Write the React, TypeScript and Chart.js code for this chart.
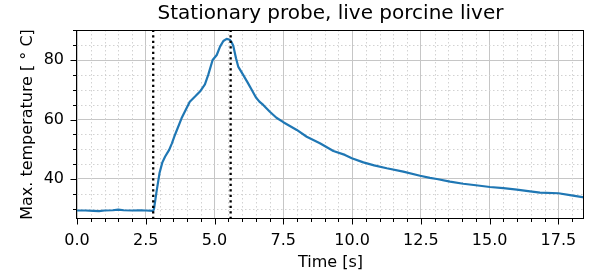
import React, { useEffect, useRef } from 'react';
import { Chart, registerables } from 'chart.js';

Chart.register(...registerables);

// ---- data ----
const timeS: number[] = [
  0, 0.3, 0.6, 0.8, 1.0, 1.3, 1.5, 1.7, 2.0, 2.3, 2.5, 2.77,
  2.8, 2.89, 3.0, 3.1, 3.2, 3.35, 3.45, 3.56, 3.8, 4.1, 4.3, 4.47, 4.65, 4.77, 4.93,
  5.08, 5.2, 5.32, 5.44, 5.55, 5.62, 5.68, 5.78, 5.86, 6.04, 6.2, 6.35, 6.5, 6.63,
  6.77, 7.01, 7.25, 7.5, 7.99, 8.35, 8.83, 9.32, 9.74, 9.99, 10.41, 10.8, 11.26,
  11.86, 12.47, 12.83, 13.08, 13.56, 14.04, 14.5, 15.01, 15.5, 15.99, 16.4, 16.83,
  17.5, 17.92, 18.43,
];
const maxTempC: number[] = [
  29.4, 29.4, 29.3, 29.2, 29.4, 29.5, 29.7, 29.5, 29.4, 29.5, 29.4, 29.3,
  30.0, 35.7, 42.0, 45.5, 47.5, 49.8, 52.0, 54.8, 60.4, 66.0, 67.8, 69.4, 71.8, 75.0, 80.0,
  81.7, 84.5, 86.4, 87.1, 86.8, 86.0, 84.8, 80.6, 77.8, 75.0, 72.5, 70.0, 67.5, 66.0,
  64.9, 62.6, 60.6, 59.1, 56.5, 54.2, 52.0, 49.4, 48.1, 47.0, 45.6, 44.6, 43.6,
  42.5, 41.1, 40.4, 40.0, 39.1, 38.4, 37.9, 37.3, 36.9, 36.4, 35.9, 35.4,
  35.2, 34.6, 33.8,
];
const markerTimes: number[] = [2.77, 5.585];

const xLimits: number[] = [0, 18.43];
const yLimits: number[] = [26.55, 90.1];
const xMajorStep = 2.5;
const xMinorStep = 0.5;
const yMajorStep = 20;
const yMinorStep = 5;

const titleText = 'Stationary probe, live porcine liver';
const xTitle = 'Time [s]';
const yTitle = 'Max. temperature [ ° C]';

const FONT = "'DejaVu Sans', sans-serif";

const isMajor = (v: number, step: number) => Math.abs(v / step - Math.round(v / step)) < 1e-6;

const decorPlugin = {
  id: 'decor',
  beforeDatasetsDraw(chart: any) {
    const { ctx, chartArea: a, scales } = chart;
    const x = scales.x;
    const y = scales.y;
    ctx.save();
    ctx.strokeStyle = '#d2d2d2';
    ctx.lineWidth = 1;
    ctx.setLineDash([1.5, 2.5]);
    x.ticks.forEach((t: any) => {
      if (isMajor(t.value, xMajorStep)) return;
      const px = Math.round(x.getPixelForValue(t.value)) + 0.5;
      ctx.beginPath();
      ctx.moveTo(px, a.top);
      ctx.lineTo(px, a.bottom);
      ctx.stroke();
    });
    y.ticks.forEach((t: any) => {
      if (isMajor(t.value, yMajorStep)) return;
      const py = Math.round(y.getPixelForValue(t.value)) + 0.5;
      ctx.beginPath();
      ctx.moveTo(a.left, py);
      ctx.lineTo(a.right, py);
      ctx.stroke();
    });
    ctx.restore();
  },
  afterDatasetsDraw(chart: any) {
    const { ctx, chartArea: a, scales } = chart;
    const x = scales.x;
    ctx.save();
    ctx.beginPath();
    ctx.rect(a.left, a.top, a.right - a.left, a.bottom - a.top);
    ctx.clip();
    ctx.strokeStyle = '#000';
    ctx.lineWidth = 2.3;
    ctx.setLineDash([2.3, 3.2]);
    markerTimes.forEach((t) => {
      const px = x.getPixelForValue(t);
      ctx.beginPath();
      ctx.moveTo(px, a.bottom);
      ctx.lineTo(px, a.top);
      ctx.stroke();
    });
    ctx.restore();
  },
  afterDraw(chart: any) {
    const { ctx, chartArea: a, scales } = chart;
    const x = scales.x;
    const y = scales.y;
    ctx.save();
    ctx.strokeStyle = '#000';
    ctx.lineWidth = 1;
    ctx.setLineDash([]);
    const l = Math.round(a.left) - 0.5;
    const r = Math.round(a.right) - 0.5;
    const tp = Math.round(a.top) + 0.5;
    const b = Math.round(a.bottom) - 0.5;
    ctx.strokeRect(l, tp, r - l, b - tp);
    x.ticks.forEach((t: any) => {
      const len = isMajor(t.value, xMajorStep) ? 6 : 3.5;
      const px = Math.round(x.getPixelForValue(t.value)) + 0.5;
      ctx.beginPath();
      ctx.moveTo(px, b);
      ctx.lineTo(px, b + len);
      ctx.stroke();
    });
    y.ticks.forEach((t: any) => {
      const len = isMajor(t.value, yMajorStep) ? 6 : 3.5;
      const py = Math.round(y.getPixelForValue(t.value)) + 0.5;
      ctx.beginPath();
      ctx.moveTo(l, py);
      ctx.lineTo(l - len, py);
      ctx.stroke();
    });
    ctx.restore();
  },
};

export default function App() {
  const canvasRef = useRef<HTMLCanvasElement | null>(null);

  useEffect(() => {
    document.body.style.margin = '0';
    const canvas = canvasRef.current;
    if (!canvas) return;
    const points = timeS.map((t, i) => ({ x: t, y: maxTempC[i] }));
    const chart = new Chart(canvas, {
      type: 'scatter',
      data: {
        datasets: [
          {
            data: points,
            showLine: true,
            borderColor: '#1f77b4',
            backgroundColor: '#1f77b4',
            borderWidth: 2.2,
            pointRadius: 0,
            tension: 0,
            borderJoinStyle: 'round',
            borderCapStyle: 'round',
          } as any,
        ],
      },
      options: {
        animation: false,
        responsive: false,
        devicePixelRatio: 1,
        layout: { padding: { left: 0, right: 9, top: 0, bottom: 0 } },
        plugins: {
          legend: { display: false },
          tooltip: { enabled: false },
          title: {
            display: true,
            text: titleText,
            fullSize: false,
            color: '#000',
            font: { family: FONT, size: 20, weight: 'normal' as any, lineHeight: 1.2 },
            padding: { top: 2, bottom: 4 },
          },
        },
        scales: {
          x: {
            type: 'linear',
            min: xLimits[0],
            max: xLimits[1],
            afterFit: (s: any) => {
              s.height = 57;
            },
            border: { display: false },
            grid: {
              drawTicks: true,
              tickLength: 6,
              tickColor: 'rgba(0,0,0,0)',
              color: (c: any) =>
                c.tick && isMajor(c.tick.value, xMajorStep) ? '#c6c6c6' : 'rgba(0,0,0,0)',
              lineWidth: 1,
            },
            ticks: {
              stepSize: xMinorStep,
              autoSkip: false,
              includeBounds: false,
              maxRotation: 0,
              minRotation: 0,
              padding: 6,
              color: '#000',
              font: { family: FONT, size: 16 },
              callback: (v: any) => (isMajor(Number(v), xMajorStep) ? Number(v).toFixed(1) : ''),
            },
            title: {
              display: true,
              text: xTitle,
              color: '#000',
              font: { family: FONT, size: 16 },
              padding: { top: 0, bottom: 4 },
            },
          },
          y: {
            type: 'linear',
            min: yLimits[0],
            max: yLimits[1],
            afterFit: (s: any) => {
              s.width = 77;
            },
            border: { display: false },
            grid: {
              drawTicks: true,
              tickLength: 6,
              tickColor: 'rgba(0,0,0,0)',
              color: (c: any) =>
                c.tick && isMajor(c.tick.value, yMajorStep) ? '#c6c6c6' : 'rgba(0,0,0,0)',
              lineWidth: 1,
            },
            ticks: {
              stepSize: yMinorStep,
              autoSkip: false,
              includeBounds: false,
              padding: 7,
              color: '#000',
              font: { family: FONT, size: 16 },
              callback: (v: any) => (isMajor(Number(v), yMajorStep) ? String(Math.round(Number(v))) : ''),
            },
            title: {
              display: true,
              text: yTitle,
              color: '#000',
              font: { family: FONT, size: 16 },
              padding: { top: 18, bottom: 0 },
            },
          },
        },
      },
      plugins: [decorPlugin],
    });
    return () => chart.destroy();
  }, []);

  return (
    <div style={{ position: 'fixed', left: 0, top: 0, width: 593, height: 276, background: '#fff' }}>
      <canvas ref={canvasRef} width={593} height={276} style={{ width: 593, height: 276, display: 'block' }} />
    </div>
  );
}
